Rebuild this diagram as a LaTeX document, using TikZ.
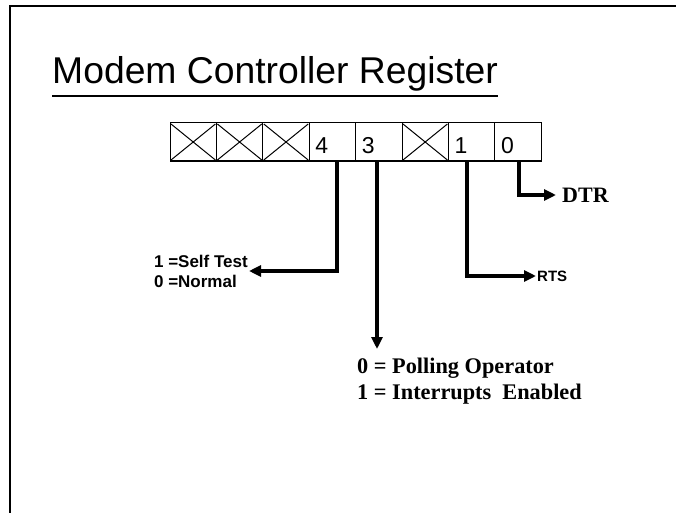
\documentclass[tikz,border=0pt]{standalone}
\usepackage{fontspec}
\setmainfont{Liberation Serif}
\setsansfont{Liberation Sans}
\usetikzlibrary{arrows.meta}
\begin{document}
\begin{tikzpicture}[x=1pt,y=-1pt,
  cellbox/.style={draw,line width=1pt,minimum width=46.4pt,minimum height=38pt,inner sep=0pt,outer sep=0pt},
  digit/.style={font=\sffamily\fontsize{23}{23}\selectfont,inner sep=0pt,anchor=west},
  conn/.style={line width=3.4pt,-{Triangle[length=12pt,width=11pt]}},
  sanslbl/.style={font=\sffamily\bfseries\fontsize{17}{20}\selectfont,inner sep=1pt,align=left},
  seriflbl/.style={font=\rmfamily\bfseries\fontsize{22.3}{26}\selectfont,inner sep=0pt,align=left}]
\useasboundingbox (0,0) rectangle (676,513);
% frame (top and left edges)
\draw[line width=2.4pt] (676,6) -- (10,6) -- (10,513);
% title
\node[font=\sffamily\fontsize{37.3}{37.3}\selectfont,inner sep=0pt,anchor=base west] (title) at (52,84) {Modem Controller Register};
\draw[line width=1.6pt] ([yshift=-12pt]title.base west) -- ([yshift=-12pt]title.base east);
% register cells
\foreach \i in {0,...,7}{
  \node[cellbox] (c\i) at ({170+46.4*(\i+0.5)},142) {};
}
\draw[line width=2.4pt] (c0.south west) -- (c7.south east);
\foreach \i in {0,1,2,5}{
  \draw[line width=1pt] ([shift={(1pt,-1pt)}]c\i.north west) -- ([shift={(-1pt,1pt)}]c\i.south east)
                          ([shift={(1pt,1pt)}]c\i.south west) -- ([shift={(-1pt,-1pt)}]c\i.north east);
}
\node[digit] (d4) at ([shift={(6pt,-3.5pt)}]c3.west) {4};
\node[digit] (d3) at ([shift={(6pt,-3.5pt)}]c4.west) {3};
\node[digit] (d1) at ([shift={(6pt,-3.5pt)}]c6.west) {1};
\node[digit] (d0) at ([shift={(6pt,-3.5pt)}]c7.west) {0};
% labels
\node[sanslbl,anchor=east] (selftest) at (249,271) {1 =Self Test\\0 =Normal};
\node[seriflbl,anchor=west] (polling) at (357,381) {0 = Polling Operator\\1 = Interrupts\ \ Enabled};
\node[font=\sffamily\bfseries\fontsize{15}{15}\selectfont,inner sep=1pt,anchor=west] (rts) at (536,276) {RTS};
\node[font=\rmfamily\bfseries\fontsize{22}{22}\selectfont,inner xsep=6pt,inner ysep=0pt,anchor=west] (dtr) at (556,195) {DTR};
\coordinate (b3end) at (377,349);
% connectors
\draw[conn] ([xshift=4.6pt]c3.south) |- (selftest.east);
\draw[conn] (c4.south -| b3end) -- (b3end);
\draw[conn] ([xshift=-4.6pt]c6.south) |- (rts.west);
\draw[conn] ([xshift=1pt]c7.south) |- (dtr.west);
\end{tikzpicture}
\end{document}
